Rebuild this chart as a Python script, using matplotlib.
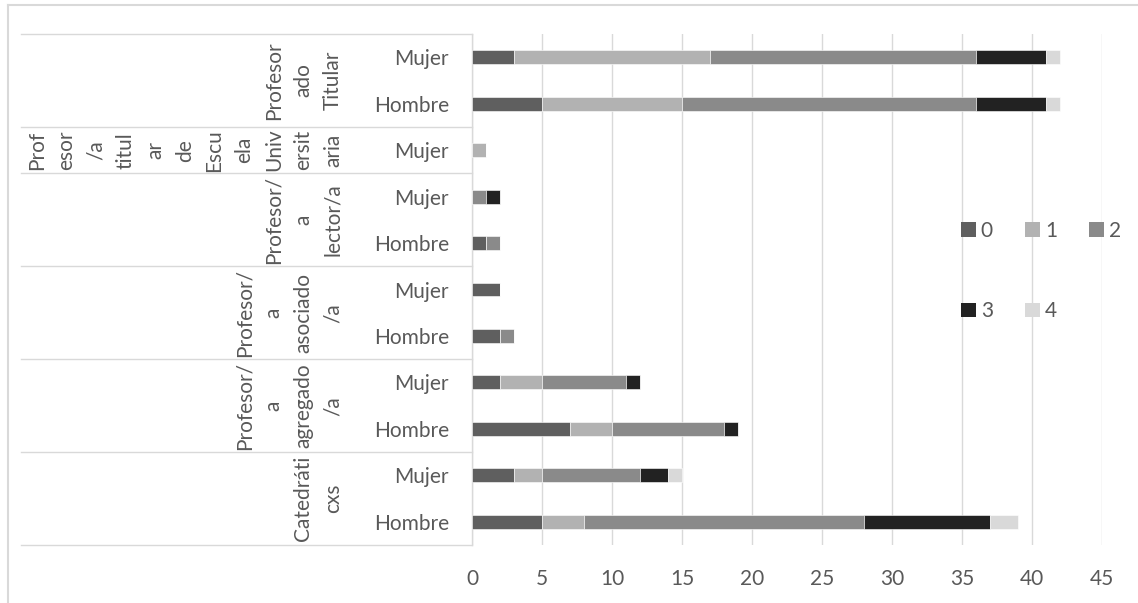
import numpy as np
import matplotlib.pyplot as plt
import matplotlib.transforms as mtransforms
from matplotlib.patches import Patch
from matplotlib.lines import Line2D

plt.rcParams['font.family'] = ['Lato', 'DejaVu Sans']

# filas de abajo hacia arriba
sexo = ['Hombre', 'Mujer', 'Hombre', 'Mujer', 'Hombre', 'Mujer',
        'Hombre', 'Mujer', 'Mujer', 'Hombre', 'Mujer']

# etiquetas de grupo tal como salen cortadas en el grafico
grupos = ['Catedráti\ncxs',
          'Profesor/\na\nagregado\n/a',
          'Profesor/\na\nasociado\n/a',
          'Profesor/\na\nlector/a',
          'Prof\nesor\n/a\ntitul\nar\nde\nEscu\nela\nUniv\nersit\naria',
          'Profesor\nado\nTitular']
filas_por_grupo = [2, 2, 2, 2, 1, 2]

serie_0 = [5, 3, 7, 2, 2, 2, 1, 0, 0, 5, 3]
serie_1 = [3, 2, 3, 3, 0, 0, 0, 0, 1, 10, 14]
serie_2 = [20, 7, 8, 6, 1, 0, 1, 1, 0, 21, 19]
serie_3 = [9, 2, 1, 1, 0, 0, 0, 1, 0, 5, 5]
serie_4 = [2, 1, 0, 0, 0, 0, 0, 0, 0, 1, 1]
series = ['0', '1', '2', '3', '4']
colores = ['#5f5f5f', '#b2b2b2', '#8a8a8a', '#222222', '#d9d9d9']

W, H = 1138, 603
fig = plt.figure(figsize=(W / 100, H / 100), dpi=100)
ax = fig.add_axes([472 / W, (H - 545) / H, 630 / W, 511 / H])

txt = '#595959'
grid = '#d9d9d9'
fs = 15

y = np.arange(len(sexo))
izq = np.zeros(len(sexo))
for nombre, vals, c in zip(series, [serie_0, serie_1, serie_2, serie_3, serie_4], colores):
    ax.barh(y, vals, left=izq, height=0.3, color=c, edgecolor='white', linewidth=0.4, zorder=3)
    izq += np.array(vals)

ax.set_xlim(0, 45)
ax.set_ylim(-0.5, len(sexo) - 0.5)
ax.set_xticks(np.arange(0, 50, 5))
ax.set_yticks(y)
ax.set_yticklabels(sexo)
ax.tick_params(axis='y', length=0, pad=16.5, labelsize=fs, labelcolor=txt)
ax.tick_params(axis='x', length=0, pad=17, labelsize=fs, labelcolor=txt)
ax.grid(axis='x', color=grid, lw=1.0, zorder=0)
for s in ['top', 'right', 'bottom']:
    ax.spines[s].set_visible(False)
ax.spines['left'].set_color(grid)
ax.spines['left'].set_linewidth(1.0)

# tabla de categorias a la izquierda
trans = mtransforms.blended_transform_factory(fig.transFigure, ax.transData)
bordes = np.concatenate([[0], np.cumsum(filas_por_grupo)]) - 0.5
for b in bordes:
    ax.add_line(Line2D([21 / W, 472 / W], [b, b], transform=trans, color=grid, lw=1.0, clip_on=False))
for g, lo, hi in zip(grupos, bordes[:-1], bordes[1:]):
    ax.text(343 / W, (lo + hi) / 2, g, transform=trans, rotation=90, ha='right', va='center',
            multialignment='center', linespacing=1.6, fontsize=fs, color=txt)

# leyenda
handles = [Patch(facecolor=c, edgecolor='none') for c in colores]
orden = [0, 3, 1, 4, 2]
ax.legend([handles[i] for i in orden], [series[i] for i in orden], ncol=3,
          loc='upper left', bbox_to_anchor=(961 / W, 1 - 221 / H), bbox_transform=fig.transFigure,
          frameon=False, fontsize=fs, labelcolor=txt, handlelength=0.7, handleheight=0.7,
          handletextpad=0.25, columnspacing=1.55, labelspacing=2.9, borderpad=0, borderaxespad=0)

# marco exterior del grafico
fig.add_artist(Line2D([8 / W, 8 / W], [0, 1 - 5 / H], transform=fig.transFigure, color=grid, lw=1.5))
fig.add_artist(Line2D([8 / W, 1], [1 - 5 / H, 1 - 5 / H], transform=fig.transFigure, color=grid, lw=1.5))

fig.savefig('out.png', dpi=100)
